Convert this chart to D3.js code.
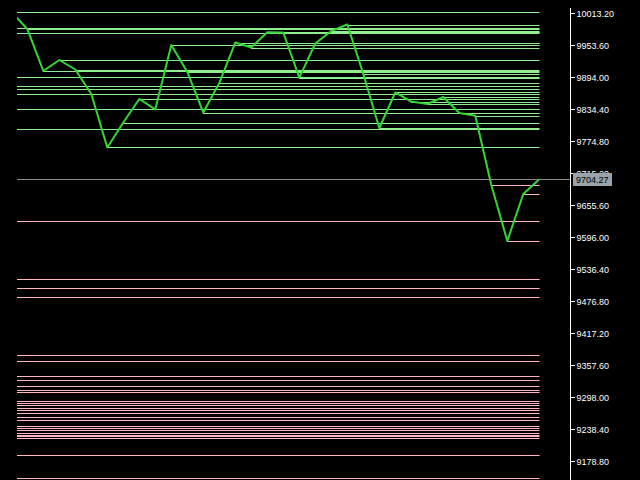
<!DOCTYPE html>
<html><head><meta charset="utf-8">
<script src="https://cdn.jsdelivr.net/npm/d3@7"></script>
<style>html,body{margin:0;padding:0;background:#000;overflow:hidden}svg{display:block}</style>
</head><body>
<script>
// Closing prices of each bar (left to right)
const closes = [10015.6, 9984.0, 9905.7, 9926.2, 9908.5, 9862.9, 9763.3, 9809.8, 9853.6, 9834.4,
  9954.2, 9903.9, 9828.4, 9883.4, 9958.8, 9949.5, 9977.8, 9977.5, 9893.3, 9957.0,
  9980.2, 9992.3, 9900.2, 9799.6, 9865.7, 9848.9, 9844.3, 9857.3, 9827.5, 9822.5,
  9693.4, 9589.1, 9676.6, 9704.27];
// Older levels that span the whole visible window
const historicLevels = [9985.3, 9975.6, 9894.0, 9878.4, 9871.6, 9862.3, 9834.4, 9797.2,
  9626.4, 9518.3, 9501.6, 9484.8, 9375.9, 9365.0, 9337.1, 9329.7, 9318.5, 9312.0, 9308.2,
  9291.5, 9288.3, 9283.1, 9278.1, 9274.7, 9269.1, 9262.2, 9255.3, 9245.1, 9241.6, 9237.1,
  9231.5, 9228.7, 9225.9, 9222.2, 9190.0, 9147.1];
const currentPrice = 9704.27;
const currentLabel = "9704.27";
const tickLabels = ["10013.20","9953.60","9894.00","9834.40","9774.80","9715.20","9655.60",
  "9596.00","9536.40","9476.80","9417.20","9357.60","9298.00","9238.40","9178.80"];

const W = 640, H = 480;
const plotL = 17, plotR = 539.5, axisX = 570;
const svg = d3.select("body").append("svg").attr("width", W).attr("height", H)
  .style("background", "#000");

const x = d3.scaleLinear().domain([0, closes.length - 1]).range([11.3, 539.3]);
const y = d3.scaleLinear().domain([9178.8, 10013.2]).range([461.3, 13.3]);

svg.append("defs").append("clipPath").attr("id", "plot")
  .append("rect").attr("x", plotL).attr("y", 0).attr("width", plotR - plotL).attr("height", H);

const g = svg.append("g").attr("clip-path", "url(#plot)");
const col = v => v > currentPrice ? "#90ee90" : "#ffb6c1";

// historic full-width levels
g.selectAll("line.hist").data(historicLevels).join("line").attr("class", "hist")
  .attr("x1", plotL).attr("x2", plotR)
  .attr("y1", d => Math.round(y(d)) + 0.5).attr("y2", d => Math.round(y(d)) + 0.5)
  .attr("stroke", col).attr("stroke-width", 1).attr("shape-rendering", "crispEdges");

// levels started at each bar
g.selectAll("line.lvl").data(closes.slice(0, closes.length - 1)).join("line").attr("class", "lvl")
  .attr("x1", (d, i) => Math.max(plotL, x(i))).attr("x2", plotR)
  .attr("y1", d => Math.round(y(d)) + 0.5).attr("y2", d => Math.round(y(d)) + 0.5)
  .attr("stroke", col).attr("stroke-width", 1).attr("shape-rendering", "crispEdges");

// current price line
svg.append("line").attr("x1", plotL).attr("x2", axisX)
  .attr("y1", Math.round(y(currentPrice)) + 0.5).attr("y2", Math.round(y(currentPrice)) + 0.5)
  .attr("stroke", "#8c8c8c").attr("stroke-width", 1).attr("shape-rendering", "crispEdges");

// price line
g.append("path").datum(closes)
  .attr("d", d3.line().x((d, i) => x(i)).y(d => y(d)))
  .attr("fill", "none").attr("stroke", "#33d633").attr("stroke-width", 2)
  .attr("stroke-linejoin", "round");

// right axis
const tickVals = tickLabels.map(Number);
const axis = d3.axisRight(y).tickValues(tickVals).tickSize(4).tickPadding(2)
  .tickFormat((d, i) => tickLabels[i]);
const ax = svg.append("g").attr("transform", `translate(${axisX + 0.5},0)`).call(axis);
ax.select(".domain").attr("stroke", "#fff").attr("d", `M0,8V${H}`);
ax.selectAll(".tick line").attr("stroke", "#fff").attr("shape-rendering", "crispEdges");
ax.selectAll(".tick text").attr("fill", "#fff").attr("font-family", "Liberation Sans, Arial, sans-serif")
  .attr("font-size", 9).attr("dy", "0.33em");

// current price label
const cy = y(currentPrice);
svg.append("rect").attr("x", 573).attr("y", Math.round(cy) - 6).attr("width", 39).attr("height", 13)
  .attr("fill", "#9aa2aa");
svg.append("text").attr("x", 576).attr("y", Math.round(cy) + 4).text(currentLabel)
  .attr("fill", "#000").attr("font-family", "Liberation Sans, Arial, sans-serif").attr("font-size", 9);
</script>
</body></html>
